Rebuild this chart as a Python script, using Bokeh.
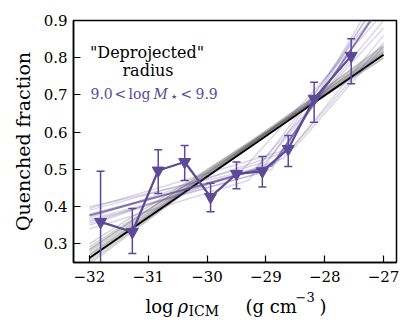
from bokeh.plotting import figure
from bokeh.models import Range1d, FixedTicker, Label
from bokeh.layouts import column
from bokeh.core.properties import value
from bokeh.embed import file_html
from bokeh.resources import INLINE

# ---------------- data ----------------
log_rho = [-31.81, -31.27, -30.83, -30.38, -29.94, -29.50, -29.06, -28.62, -28.18, -27.55]
qfrac = [0.359, 0.332, 0.497, 0.520, 0.426, 0.488, 0.495, 0.555, 0.690, 0.805]
q_hi = [0.495, 0.395, 0.553, 0.564, 0.463, 0.520, 0.535, 0.591, 0.734, 0.851]
q_lo = [0.222, 0.274, 0.435, 0.470, 0.386, 0.448, 0.453, 0.508, 0.627, 0.730]

fit_x = [-32.0, -27.0]
black_fit = [0.262, 0.808]
grey_left = [0.268, 0.280, 0.292, 0.252, 0.262, 0.300, 0.274, 0.246, 0.286, 0.258, 0.270, 0.284]
grey_right = [0.812, 0.806, 0.798, 0.826, 0.830, 0.800, 0.816, 0.834, 0.808, 0.822, 0.814, 0.818]
main_break = [0.376, -28.9, 0.510, 0.950]
light_left = [0.400, 0.390, 0.360, 0.350, 0.340, 0.370, 0.380, 0.355, 0.395, 0.365]
light_xbrk = [-29.2, -29.0, -28.9, -28.7, -29.3, -28.6, -29.5, -28.8, -28.5, -29.1]
light_ybrk = [0.500, 0.520, 0.500, 0.530, 0.470, 0.550, 0.480, 0.520, 0.560, 0.490]
light_right = [0.880, 0.900, 0.980, 0.860, 0.950, 0.840, 0.920, 1.000, 0.830, 0.970]

x_ticks = [-32, -31, -30, -29, -28, -27]
y_ticks = [0.3, 0.4, 0.5, 0.6, 0.7, 0.8, 0.9]

PURPLE = "#5b4a97"
FONT = "DejaVu Serif"

X0, X1 = -32.27, -26.78
Y0, Y1 = 0.25, 0.90

W = 407
H_MAIN = 287
H_LAB = 36
FL, FR, FT, FB = 73, 396, 20, 262

p = figure(width=W, height=H_MAIN, x_range=Range1d(X0, X1), y_range=Range1d(Y0, Y1),
           output_backend="svg", toolbar_location=None,
           min_border_left=FL, min_border_right=W - FR, min_border_top=FT,
           min_border_bottom=H_MAIN - FB)
p.background_fill_color = "white"
p.border_fill_color = "white"
p.outline_line_color = "black"
p.outline_line_width = 1.5
p.xgrid.visible = False
p.ygrid.visible = False

for ax in (p.xaxis[0], p.yaxis[0]):
    ax.major_tick_in = 7
    ax.major_tick_out = 0
    ax.minor_tick_in = 0
    ax.minor_tick_out = 0
    ax.axis_line_width = 1.5
    ax.major_tick_line_width = 1.2
    ax.major_label_text_font = FONT
    ax.major_label_text_font_size = "15px"
    ax.major_label_text_color = "black"

p.xaxis.ticker = FixedTicker(ticks=x_ticks)
p.yaxis.ticker = FixedTicker(ticks=y_ticks)
p.xaxis.major_label_overrides = {t: "\u2212" + str(abs(t)) for t in x_ticks}
p.xaxis.major_label_standoff = 8
p.yaxis.major_label_standoff = 6

p.yaxis.axis_label = "Quenched fraction"
p.yaxis.axis_label_text_font = FONT
p.yaxis.axis_label_text_font_size = "19px"
p.yaxis.axis_label_text_font_style = "normal"
p.yaxis.axis_label_text_color = "black"
p.yaxis.axis_label_standoff = 7

# ---------------- fits ----------------
for yl, yr in zip(grey_left, grey_right):
    p.line(fit_x, [yl, yr], line_color="#555555", line_alpha=0.25, line_width=1.5)
p.line(fit_x, black_fit, line_color="black", line_width=2)

for yl, xb, yb, yr in zip(light_left, light_xbrk, light_ybrk, light_right):
    p.line([fit_x[0], xb, fit_x[1]], [yl, yb, yr], line_color=PURPLE, line_alpha=0.22, line_width=1.5)
p.line([fit_x[0], main_break[1], fit_x[1]], [main_break[0], main_break[2], main_break[3]],
       line_color=PURPLE, line_alpha=0.7, line_width=2)

# ---------------- data ----------------
p.segment(x0=log_rho, y0=q_lo, x1=log_rho, y1=q_hi, line_color=PURPLE, line_width=1.5)
p.scatter(log_rho, q_hi, marker="dash", size=8, line_color=PURPLE, line_width=1.5)
p.scatter(log_rho, q_lo, marker="dash", size=8, line_color=PURPLE, line_width=1.5)
p.line(log_rho, qfrac, line_color=PURPLE, line_width=2.2)
p.scatter(log_rho, qfrac, marker="inverted_triangle", size=12, fill_color=PURPLE, line_color=PURPLE)

# ---------------- in-plot texts (positions given in screenshot pixels) ----------------
def dx(sx):
    return X0 + (sx - FL) * (X1 - X0) / (FR - FL)

def dy(sy):
    return Y1 - (sy - FT) * (Y1 - Y0) / (FB - FT)

def add_text(sx, sy, text, size, color="black", align="left", style="normal"):
    p.add_layout(Label(x=dx(sx), y=dy(sy), text=text, text_font=FONT, text_font_size=size,
                       text_color=color, text_align=align, text_baseline="alphabetic",
                       text_font_style=style))

add_text(146.5, 52, "\"Deprojected\"", "16px", align="center")
add_text(147.5, 70, "radius", "16px", align="center")

add_text(90, 93, "9.0", "14px", PURPLE)
add_text(114, 93, "<", "14px", PURPLE)
add_text(128, 93, "log", "14px", PURPLE)
add_text(153, 93, "M", "14px", PURPLE, style="italic")
add_text(170, 96, "\u2605", "7px", PURPLE)
add_text(180, 93, "<", "14px", PURPLE)
add_text(195, 93, "9.9", "14px", PURPLE)

# ---------------- x-axis title strip (pixel coordinates of the page) ----------------
TOP = H_MAIN + H_LAB
q = figure(width=W, height=H_LAB, x_range=Range1d(FL, FR), y_range=Range1d(0, H_LAB),
           output_backend="svg", toolbar_location=None,
           x_axis_location=None, y_axis_location=None,
           min_border_left=FL, min_border_right=W - FR, min_border_top=0, min_border_bottom=0)
q.outline_line_color = None
q.xgrid.visible = False
q.ygrid.visible = False
q.background_fill_color = "white"
q.border_fill_color = "white"

xl_text = ["log", "\u03c1", "ICM", "(g cm", "\u22123", ")"]
xl_sx = [145, 177, 188, 245, 295, 319]
xl_sy = [306, 306, 310, 306, 296, 306]
xl_size = ["18px", "18px", "14px", "18px", "13px", "18px"]
xl_style = ["normal", "italic", "normal", "normal", "normal", "normal"]
for t, sx, sy, sz, st in zip(xl_text, xl_sx, xl_sy, xl_size, xl_style):
    q.text(x=[sx], y=[TOP - sy], text=[t], text_font=value(FONT), text_font_size=sz,
           text_font_style=st, text_color="black", text_align="left", text_baseline="alphabetic")

layout = column(p, q, spacing=0)
open("out.html", "w").write(file_html(layout, INLINE))
